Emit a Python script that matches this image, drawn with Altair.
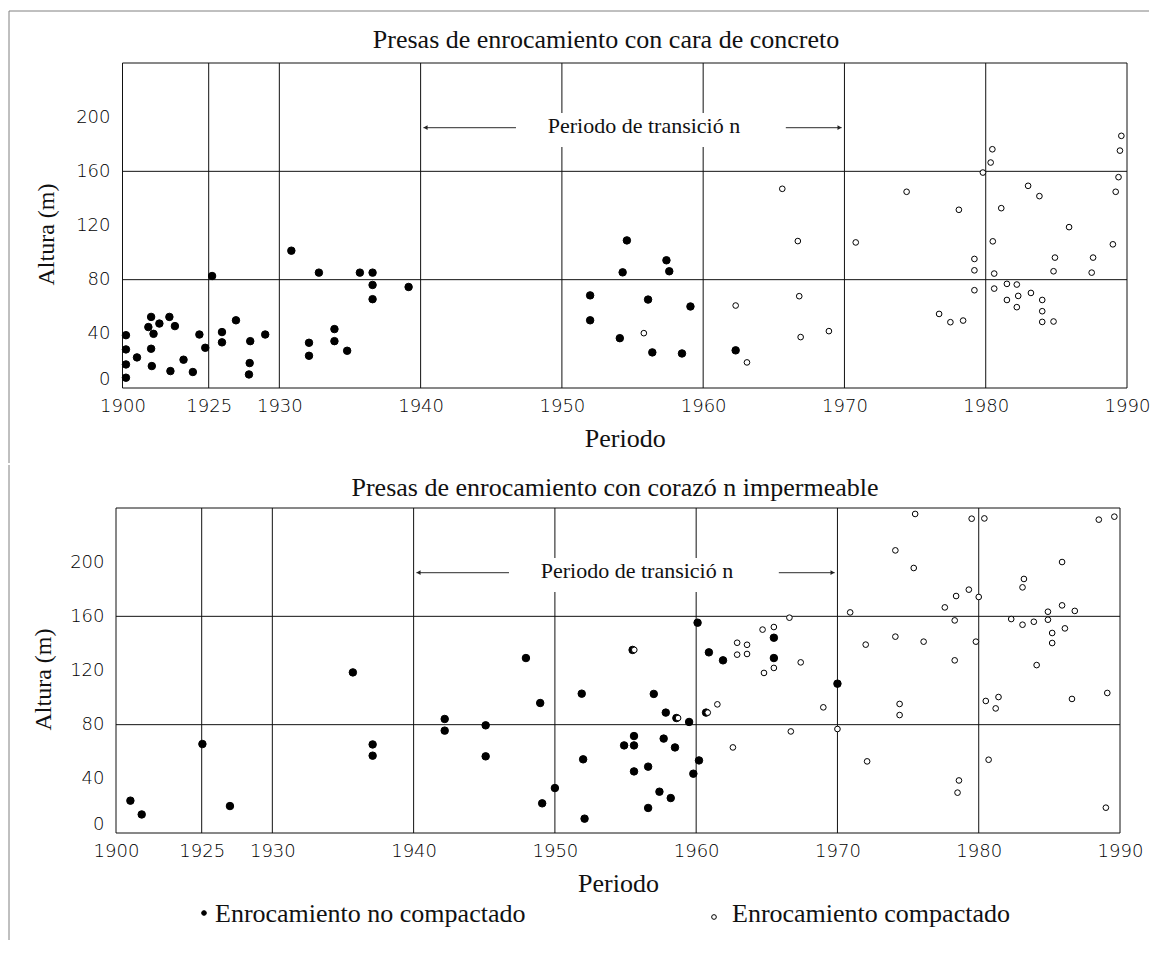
import altair as alt
import pandas as pd

# ---------------- data ----------------
top_fill_year = [1901.0, 1901.0, 1901.0, 1901.0, 1904.2, 1907.5, 1908.3, 1909.0, 1908.3, 1908.5,
                 1910.7, 1913.6, 1915.2, 1913.9, 1917.7, 1920.4, 1922.3, 1924.0, 1925.24, 1925.94,
                 1925.94, 1926.93, 1927.94, 1927.9, 1927.85, 1929.0, 1930.85, 1932.1, 1932.1, 1932.8,
                 1933.9, 1933.9, 1934.8, 1935.7, 1936.6, 1936.6, 1936.6, 1939.15, 1952.0, 1952.0,
                 1954.1, 1954.3, 1954.6, 1956.1, 1956.4, 1957.4, 1957.6, 1958.5, 1959.1, 1962.3]
top_fill_h = [39, 28.5, 17.4, 7.6, 22.6, 45, 52.5, 40, 29, 16.2,
              47.6, 52.5, 45.7, 12.5, 20.9, 11.8, 39.5, 29.7, 82.7, 41.3,
              33.7, 50, 34.6, 18.4, 10, 39.5, 101.4, 33.4, 23.8, 85.2,
              43.5, 34.6, 27.5, 85.2, 85.2, 76.1, 65.6, 74.6, 68.4, 50,
              36.8, 85.4, 109, 65.3, 26.3, 94.3, 86.2, 25.5, 60.2, 27.8]

top_open_year = [1955.8, 1962.3, 1963.1, 1965.6, 1966.7, 1966.8, 1966.9, 1968.9, 1970.8, 1974.4,
                 1976.7, 1977.5, 1978.1, 1978.4, 1979.2, 1979.2, 1979.2, 1979.8, 1980.35, 1980.47,
                 1980.5, 1980.6, 1980.6, 1981.1, 1981.5, 1981.5, 1982.2, 1982.3, 1982.2, 1983.0,
                 1983.2, 1983.8, 1984.0, 1984.0, 1984.0, 1984.8, 1984.8, 1984.9, 1985.9, 1987.5,
                 1987.6, 1989.0, 1989.2, 1989.4, 1989.5, 1989.6]
top_open_h = [40.5, 60.9, 18.9, 147.1, 108.5, 67.8, 37.6, 42, 107.5, 144.9,
              54.7, 48.6, 131.6, 49.8, 72.2, 86.9, 95.3, 159.1, 166.5, 176.3,
              108.3, 84.5, 73.4, 132.8, 76.9, 65, 76.4, 68, 59.7, 149.3,
              70.2, 141.7, 65, 56.7, 48.8, 49.1, 86.2, 96.3, 118.8, 85.2,
              96.3, 106.1, 144.9, 155.7, 175.3, 186.2]

bot_fill_year = [1904.2, 1907.5, 1925.05, 1927.0, 1935.7, 1937.1, 1937.1, 1942.2, 1942.2, 1945.1,
                 1945.1, 1947.95, 1948.96, 1949.1, 1950.0, 1951.9, 1952.0, 1952.1, 1954.9, 1955.5,
                 1955.6, 1955.6, 1955.6, 1956.6, 1956.6, 1957.0, 1957.4, 1957.7, 1957.85, 1958.2,
                 1958.5, 1958.6, 1959.5, 1959.8, 1960.1, 1960.2, 1960.7, 1960.9, 1961.9, 1965.5,
                 1965.5, 1970.0]
bot_fill_h = [23.9, 13.7, 65.7, 19.9, 118.6, 65.4, 57.1, 84.2, 75.6, 79.5,
              56.6, 129.2, 96, 21.9, 33.2, 102.9, 54.4, 10.6, 64.7, 135.2,
              71.6, 64.7, 45.5, 49, 18.5, 102.7, 30.5, 69.7, 88.9, 25.8,
              63.2, 84.9, 82, 43.8, 155.3, 53.6, 88.9, 133.4, 127.5, 144.2,
              129.2, 110.3]

bot_open_year = [1955.62, 1958.72, 1960.82, 1961.5, 1962.6, 1962.9, 1963.6, 1962.9, 1963.6, 1964.7,
                 1965.5, 1965.5, 1964.8, 1966.6, 1967.4, 1969.0, 1970.0, 1966.7, 1970.9, 1972.0,
                 1972.1, 1974.1, 1975.4, 1975.5, 1974.1, 1974.4, 1974.4, 1976.1, 1977.6, 1978.4,
                 1979.3, 1978.3, 1978.3, 1978.6, 1978.5, 1979.5, 1980.4, 1980.0, 1979.8, 1980.5,
                 1981.4, 1981.2, 1980.7, 1982.3, 1983.1, 1983.1, 1983.2, 1983.9, 1984.1, 1984.9,
                 1984.9, 1985.2, 1985.2, 1985.9, 1986.8, 1986.1, 1985.9, 1986.6, 1989.1, 1989.0,
                 1988.5, 1989.6]
bot_open_h = [135.2, 84.9, 88.9, 95, 63.2, 140.5, 139, 131.7, 132.2, 150.2,
              152.1, 121.9, 118.2, 159, 126, 92.8, 76.8, 75, 162.9, 139.1,
              52.9, 208.7, 195.7, 235.6, 145, 95.3, 87.1, 141.3, 166.6, 175,
              179.7, 157, 127.5, 38.8, 29.8, 232.1, 232.3, 174.3, 141.3, 97.5,
              100.4, 92, 54.1, 158, 153.8, 181.4, 187.6, 156, 124, 163.4,
              157.5, 147.7, 140.3, 168.1, 164, 151.1, 200.1, 99, 103.4, 18.7,
              231.4, 233.6]

x_ticks = [1900, 1925, 1930, 1940, 1950, 1960, 1970, 1980, 1990]
y_ticks = [0, 40, 80, 120, 160, 200]
v_grid = [1925, 1930, 1940, 1950, 1960, 1970, 1980]
h_grid = [80, 160]

LAB_FILL = "Enrocamiento no compactado"
LAB_OPEN = "Enrocamiento compactado"
title_top = "Presas de enrocamiento con cara de concreto"
title_bot = "Presas de enrocamiento con corazó n impermeable"
trans_text = "Periodo de transició n"
x_title = "Periodo"
y_title = "Altura (m)"

SERIF = "Liberation Serif"
SANS = "DejaVu Sans"
FILL_RANGE = ["black", "white"]


def panel(fy, fh, oy, oh, rng, title, tx, ty, ylp, ytx, extra):
    xs = alt.Scale(domain=[1900, 1925, 1990], range=rng)
    ys = alt.Scale(domain=[0, 240], nice=False, zero=False)
    ax_x = alt.Axis(
        values=x_ticks, format="d", grid=False, ticks=False, tickSize=0, domain=False,
        labelFont=SANS, labelFontWeight=200, labelFontSize=18, labelColor="#000",
        labelPadding=9, labelFlush=False, labelOverlap=False,
        title=x_title, titleFont=SERIF, titleFontSize=26, titleFontWeight="normal",
        titleColor="#111", titleBaseline="alphabetic", titleY=58,
    )
    ax_y = alt.Axis(
        values=y_ticks, grid=False, ticks=False, tickSize=0, domain=False,
        labelFont=SANS, labelFontWeight=200, labelFontSize=18, labelColor="#000",
        labelPadding=ylp, labelFlush=True, labelOverlap=False,
        title=y_title, titleFont=SERIF, titleFontSize=24, titleFontWeight="normal",
        titleColor="#111", titleBaseline="middle", titleX=ytx, titleY=171,
    )
    X = lambda f: alt.X(f, scale=xs, axis=ax_x, title=x_title)
    Y = lambda f: alt.Y(f, scale=ys, axis=ax_y, title=y_title)

    pts = pd.DataFrame({
        "Año": fy + oy,
        "Altura": fh + oh,
        "Tipo": [LAB_FILL] * len(fy) + [LAB_OPEN] * len(oy),
    })

    vg = alt.Chart(pd.DataFrame({"g": v_grid, "y0": 0, "y1": 240})).mark_rule(
        color="#111", strokeWidth=1).encode(x=X("g:Q"), y=Y("y0:Q"), y2="y1:Q")
    hg = alt.Chart(pd.DataFrame({"g": h_grid, "x0": 1900, "x1": 1990})).mark_rule(
        color="#111", strokeWidth=1).encode(y=Y("g:Q"), x=X("x0:Q"), x2="x1:Q")
    box = alt.Chart(pd.DataFrame({"x0": [1900], "x1": [1990], "y0": [0], "y1": [240]})).mark_rect(
        fillOpacity=0, stroke="#111", strokeWidth=1
    ).encode(x=X("x0:Q"), x2="x1:Q", y=Y("y0:Q"), y2="y1:Q")
    blank = alt.Chart(pd.DataFrame({"x0": [1948.6], "x1": [1963.9], "y0": [178], "y1": [203]})).mark_rect(
        color="white").encode(x=X("x0:Q"), x2="x1:Q", y=Y("y0:Q"), y2="y1:Q")
    arrows = alt.Chart(pd.DataFrame({
        "x0": [1946.75, 1965.85], "x1": [1940.2, 1969.8], "y0": [192.3, 192.3]
    })).mark_rule(color="#555", strokeWidth=1.2).encode(x=X("x0:Q"), x2="x1:Q", y=Y("y0:Q"))
    head_l = alt.Chart(pd.DataFrame({"x0": [1940.35], "y0": [192.3]})).mark_point(
        shape="triangle-left", filled=True, color="#222", size=22, opacity=1
    ).encode(x=X("x0:Q"), y=Y("y0:Q"))
    head_r = alt.Chart(pd.DataFrame({"x0": [1969.65], "y0": [192.3]})).mark_point(
        shape="triangle-right", filled=True, color="#222", size=22, opacity=1
    ).encode(x=X("x0:Q"), y=Y("y0:Q"))
    label = alt.Chart(pd.DataFrame({"x0": [1949.0], "y0": [188.0], "t": [trans_text]})).mark_text(
        align="left", baseline="alphabetic", font=SERIF, fontSize=22, color="#111"
    ).encode(x=X("x0:Q"), y=Y("y0:Q"), text="t:N")
    ttl = alt.Chart(pd.DataFrame({"t": [title]})).mark_text(
        align="center", baseline="alphabetic", font=SERIF, fontSize=26, color="#111"
    ).encode(x=alt.value(tx), y=alt.value(ty), text="t:N")

    points = alt.Chart(pts).mark_point(
        filled=True, shape="circle", stroke="black", strokeWidth=1, opacity=1, fillOpacity=1
    ).encode(
        x=X("Año:Q"),
        y=Y("Altura:Q"),
        fill=alt.Fill("Tipo:N", scale=alt.Scale(domain=[LAB_FILL, LAB_OPEN], range=FILL_RANGE),
                      legend=None),
        size=alt.Size("Tipo:N", scale=alt.Scale(domain=[LAB_FILL, LAB_OPEN], range=[56, 32]), legend=None),
    )

    layers = [vg, hg, box, blank, arrows, head_l, head_r, label, points, ttl] + extra
    return alt.layer(*layers).properties(width=1011, height=325)


one = pd.DataFrame({"a": [0]})
top_extra = [
    alt.Chart(one).mark_rule(color="#808080", strokeWidth=1).encode(
        x=alt.value(-107), x2=alt.value(1033), y=alt.value(-52)),
    alt.Chart(one).mark_rule(color="#808080", strokeWidth=1).encode(
        x=alt.value(-107), y=alt.value(-52), y2=alt.value(400)),
]

# key (legend) below the lower panel
key_sym = alt.Chart(pd.DataFrame({
    "Tipo": [LAB_FILL, LAB_OPEN], "px": [88, 598], "py": [405, 409]
})).mark_point(filled=True, shape="circle", stroke="black", strokeWidth=1, size=22, opacity=1).encode(
    x=alt.X("px:Q", scale=None, axis=None),
    y=alt.Y("py:Q", scale=None, axis=None),
    fill=alt.Fill("Tipo:N", scale=alt.Scale(domain=[LAB_FILL, LAB_OPEN], range=FILL_RANGE), legend=None),
)
key_txt = alt.Chart(pd.DataFrame({
    "Tipo": [LAB_FILL, LAB_OPEN], "px": [99, 616], "py": [414, 414]
})).mark_text(align="left", baseline="alphabetic", font=SERIF, fontSize=26, color="#111").encode(
    x=alt.X("px:Q", scale=None, axis=None),
    y=alt.Y("py:Q", scale=None, axis=None),
    text="Tipo:N",
)
bot_extra = [
    alt.Chart(one).mark_rule(color="#808080", strokeWidth=1).encode(
        x=alt.value(-107), y=alt.value(-43), y2=alt.value(432)),
    key_sym, key_txt,
]

top = panel(top_fill_year, top_fill_h, top_open_year, top_open_h,
            [6.5, 92.7, 1011], title_top, 490, -15, 6, -70, top_extra)
bot = panel(bot_fill_year, bot_fill_h, bot_open_year, bot_open_h,
            [0, 85.7, 1004], title_bot, 499, -12, 12, -73, bot_extra)

chart = alt.vconcat(top, bot, spacing=0).properties(
    padding={"left": 0, "top": 2, "right": 0, "bottom": 0},
    background="white",
).configure_view(stroke=None)

chart.save("out.html", embed_options={"renderer": "svg", "actions": False})
